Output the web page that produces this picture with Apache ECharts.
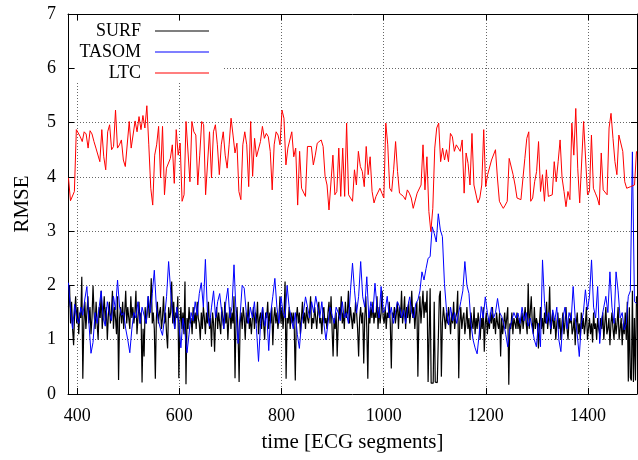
<!DOCTYPE html>
<html>
<head>
<meta charset="utf-8">
<script src="https://cdn.jsdelivr.net/npm/echarts@6/dist/echarts.min.js"></script>
<style>
html,body{margin:0;padding:0;background:#fff}
#chart{width:638px;height:460px}
</style>
</head>
<body>
<div id="chart"></div>
<script>
// tick positions
var xTicks = [400, 600, 800, 1000, 1200, 1400];

// SURF: one value every 2 segments from 383
var surfStart = 383, surfStep = 2;
var surf = [
  1.6, 2.0, 1.3, 1.7, 1.2, 0.9, 1.5, 1.8, 1.3, 1.6, 1.1, 1.5, 1.4, 2.16, 0.28, 1.3, 1.7, 1.2, 1.5, 1.8,
  1.3, 1.6, 1.1, 1.4, 2.0, 1.5, 1.2, 1.7, 1.3, 1.0, 1.6, 1.4, 1.9, 1.2, 1.5, 1.8, 1.3, 1.6, 1.0, 1.45,
  1.7, 1.3, 1.5, 1.9, 1.2, 1.6, 1.4, 1.1, 1.8, 0.26, 1.4, 1.6, 1.3, 1.7, 1.2, 1.5, 1.9, 1.3, 1.6, 1.4,
  1.2, 1.8, 1.4, 1.6, 1.3, 1.5, 1.9, 1.1, 1.4, 1.7, 1.3, 1.5, 0.21, 1.2, 0.69, 1.6, 1.3, 1.5, 1.8, 1.4,
  1.6, 2.13, 1.3, 1.5, 1.2, 0.28, 1.4, 1.7, 1.3, 1.5, 1.6, 1.2, 1.4, 1.8, 1.3, 1.5, 1.1, 0.84, 1.6, 1.4,
  1.5, 2.07, 1.3, 1.7, 1.2, 1.5, 1.4, 1.8, 0.29, 1.3, 1.6, 1.2, 1.5, 1.1, 2.07, 0.18, 1.4, 1.2, 1.6, 1.3,
  1.4, 1.1, 1.6, 1.3, 1.5, 1.2, 1.7, 1.4, 1.3, 1.0, 1.5, 1.2, 1.6, 1.4, 1.1, 1.5, 1.3, 1.7, 1.2, 1.4,
  0.87, 1.5, 1.3, 0.78, 1.4, 1.6, 1.2, 1.5, 1.3, 1.1, 1.6, 1.4, 1.2, 1.7, 1.3, 1.5, 1.0, 1.4, 1.6, 1.2,
  1.5, 1.3, 1.8, 0.29, 1.4, 1.6, 1.1, 0.22, 1.3, 1.5, 1.2, 1.6, 1.4, 1.0, 1.5, 1.3, 1.7, 1.2, 1.4, 1.1,
  1.4, 1.6, 1.2, 1.5, 1.3, 1.7, 1.1, 1.4, 1.5, 1.2, 1.6, 1.3, 1.0, 1.5, 1.4, 1.7, 1.2, 1.5, 1.3, 1.6,
  0.9, 1.4, 1.6, 1.3, 1.5, 1.2, 1.4, 1.8, 1.3, 1.6, 1.2, 1.5, 2.07, 0.28, 1.4, 1.3, 1.6, 1.2, 1.5, 1.3,
  1.5, 1.2, 0.25, 1.4, 1.6, 1.3, 1.5, 1.1, 1.4, 1.7, 1.3, 1.5, 1.2, 1.6, 1.4, 1.3, 1.5, 1.8, 1.2, 1.4,
  1.3, 1.6, 1.4, 1.2, 1.5, 1.7, 1.3, 1.4, 1.1, 1.5, 1.6, 1.3, 1.4, 1.2, 1.5, 1.7, 1.3, 1.8, 1.2, 0.69,
  1.4, 1.2, 1.5, 0.69, 1.3, 1.6, 1.4, 1.8, 1.3, 1.5, 1.2, 1.7, 1.4, 1.5, 1.9, 1.3, 1.6, 1.4, 1.2, 1.5,
  1.3, 1.7, 1.5, 1.2, 0.69, 1.4, 1.6, 1.3, 1.5, 0.56, 1.4, 1.8, 1.2, 0.28, 1.5, 1.3, 1.6, 1.4, 1.7, 1.3,
  1.5, 1.4, 1.8, 1.2, 1.6, 1.3, 1.5, 1.9, 1.4, 1.3, 1.6, 1.2, 1.5, 1.4, 1.7, 1.3, 0.47, 1.5, 1.4, 1.6,
  1.3, 1.5, 1.7, 1.2, 1.6, 1.4, 1.9, 1.3, 1.5, 1.8, 1.2, 1.6, 1.4, 1.7, 1.3, 1.5, 1.9, 1.4, 1.6, 1.2,
  1.5, 1.7, 0.32, 1.4, 1.8, 1.3, 1.6, 1.9, 1.4, 1.7, 1.5, 1.9, 0.22, 0.2, 1.95, 0.2, 0.21, 0.2, 1.7, 0.22,
  0.2, 0.21, 0.2, 1.8, 1.9, 0.32, 1.3, 1.6, 1.4, 1.2, 1.5, 1.3, 1.6, 1.4, 1.1, 1.5, 1.3, 1.7, 1.2, 1.4,
  1.5, 1.9, 0.29, 1.3, 1.6, 1.2, 1.4, 1.5, 1.1, 1.3, 1.6, 1.2, 1.4, 1.0, 1.5, 1.3, 1.2, 1.6, 1.1, 1.4,
  1.2, 1.5, 1.3, 1.0, 1.4, 1.2, 1.6, 0.78, 1.3, 1.5, 1.1, 1.4, 1.2, 1.5, 1.3, 1.6, 1.2, 1.4, 1.1, 1.5,
  1.3, 1.2, 1.5, 0.69, 1.4, 1.1, 1.3, 1.5, 1.2, 1.4, 1.6, 0.17, 1.3, 1.2, 1.5, 1.1, 1.4, 1.3, 1.2, 1.5,
  1.2, 1.4, 1.1, 1.3, 1.5, 1.2, 1.4, 1.6, 1.3, 1.1, 2.04, 1.2, 1.5, 1.8, 1.3, 1.1, 1.6, 1.2, 1.4, 1.3,
  0.84, 1.3, 1.6, 1.2, 1.4, 1.1, 1.5, 1.3, 1.7, 1.2, 1.4, 1.98, 1.1, 1.3, 1.5, 1.2, 1.4, 1.0, 1.3, 1.5,
  1.2, 1.4, 1.0, 1.3, 1.5, 1.1, 1.3, 1.6, 1.2, 1.0, 1.4, 1.3, 1.5, 1.1, 1.2, 1.4, 0.9, 1.3, 1.5, 1.1,
  1.3, 1.0, 1.5, 1.2, 1.4, 1.1, 1.3, 1.6, 1.0, 1.2, 1.4, 1.1, 1.3, 0.95, 1.5, 1.2, 1.3, 1.0, 1.4, 1.2,
  1.1, 1.4, 1.2, 1.5, 1.0, 1.3, 1.6, 1.1, 1.2, 1.4, 0.9, 1.3, 1.5, 1.2, 1.0, 1.4, 1.1, 1.3, 1.6, 1.0,
  1.2, 1.4, 0.9, 1.3, 1.1, 1.5, 1.0, 1.7, 0.23, 1.6, 0.3, 0.25, 1.9, 0.22, 1.4, 0.25, 1.8
];

// TASOM: one value every 4 segments from 383
var tasomStart = 383, tasomStep = 4;
var tasom = [
  2.05, 1.55, 1.2, 1.65, 1.4, 1.3, 1.6, 1.45, 1.75, 1.98,
  1.3, 0.75, 0.95, 1.5, 1.3, 1.6, 1.9, 1.4, 1.25, 1.7,
  1.5, 1.35, 1.8, 1.55, 2.1, 1.6, 1.45, 1.5, 1.2, 1.0,
  0.76, 1.2, 1.5, 1.4, 1.7, 1.3, 1.6, 1.45, 1.3, 1.8,
  1.5, 1.85, 2.28, 1.6, 1.35, 1.2, 1.08, 1.4, 1.8, 2.44,
  1.9, 1.45, 1.2, 1.6, 1.3, 0.85, 1.4, 1.15, 0.76, 1.1,
  1.5, 1.35, 1.7, 1.45, 1.85, 2.05, 1.6, 2.48, 1.5, 1.25,
  1.6, 1.9, 1.4, 1.7, 1.85, 1.5, 1.2, 1.7, 1.95, 1.4,
  1.6, 2.38, 1.5, 0.93, 1.45, 2.0, 1.95, 1.5, 1.3, 1.6,
  1.4, 1.7, 1.2, 0.6, 1.3, 1.6, 1.25, 1.5, 0.8, 1.5,
  1.8, 2.13, 1.6, 1.3, 1.79, 1.5, 1.4, 2.0, 1.6, 1.4,
  1.2, 1.5, 1.1, 0.84, 1.3, 1.5, 1.79, 1.6, 1.4, 1.7,
  1.5, 1.8, 1.6, 1.4, 1.7, 1.3, 1.0, 1.3, 1.6, 1.45,
  1.3, 1.6, 1.5, 1.35, 1.7, 1.4, 1.5, 1.3, 1.9, 2.41,
  1.9, 1.49, 1.8, 2.44, 1.79, 1.6, 2.16, 1.4, 1.7, 1.5,
  2.04, 1.6, 1.4, 1.98, 1.5, 1.55, 1.8, 1.4, 1.6, 1.3,
  1.5, 1.7, 1.61, 1.4, 1.55, 1.3, 1.6, 1.79, 1.5, 1.4,
  1.67, 1.73, 1.9, 2.25, 2.1, 2.31, 2.5, 2.53, 3.08, 2.96,
  2.8, 3.32, 3.02, 2.9, 2.04, 1.55, 1.27, 1.6, 1.35, 1.5,
  1.3, 1.5, 1.7, 1.9, 2.44, 2.0, 1.85, 1.3, 1.0, 0.85,
  0.74, 1.1, 1.61, 1.4, 1.79, 1.5, 1.3, 1.6, 1.4, 1.5,
  1.76, 1.5, 1.43, 1.3, 1.1, 0.87, 1.2, 1.36, 1.5, 1.4,
  1.49, 1.3, 1.6, 1.35, 1.5, 1.25, 1.4, 1.2, 1.0, 0.87,
  1.3, 0.87, 2.47, 1.67, 1.3, 1.5, 1.2, 1.55, 1.35, 1.6,
  1.0, 0.78, 1.4, 1.6, 1.2, 1.5, 1.35, 1.98, 1.4, 1.1,
  0.69, 1.3, 1.5, 1.92, 1.55, 1.8, 2.47, 1.6, 1.4, 1.98,
  0.93, 1.4, 1.6, 1.8, 1.5, 2.25, 1.6, 1.3, 2.25, 1.9,
  1.4, 1.5, 1.18, 1.3, 1.8, 1.9, 4.46, 1.7, 1.67
];

// LTC: evenly spaced from 383 to 1495
var ltcStart = 383, ltcEnd = 1495;
var ltc = [
  3.98, 3.56, 3.58, 3.73, 4.87, 4.85, 4.74, 4.65, 4.83, 4.79,
  4.53, 4.85, 4.79, 4.65, 4.53, 4.53, 4.28, 4.87, 4.37, 4.13,
  4.83, 4.96, 4.50, 4.56, 5.23, 4.53, 4.59, 4.68, 4.31, 4.19,
  4.22, 5.02, 4.53, 4.56, 5.03, 4.83, 5.11, 4.87, 5.13, 4.90,
  5.31, 4.59, 3.79, 3.48, 4.40, 4.59, 4.93, 3.98, 4.93, 3.67,
  4.16, 4.13, 4.34, 4.59, 3.88, 4.87, 4.40, 4.62, 3.55, 3.67,
  5.02, 5.05, 3.91, 5.02, 4.83, 4.77, 3.85, 4.40, 5.02, 4.96,
  3.67, 3.64,
  4.83, 3.98, 4.83, 4.96, 4.59, 4.04, 4.59, 4.83, 4.40, 4.16,
  4.59, 5.08, 4.77, 4.44, 4.62, 3.73, 3.58, 4.59, 4.83, 4.59,
  3.82, 5.02, 4.01, 4.71, 4.37, 4.40, 4.65, 4.93, 4.71, 4.80,
  4.74, 4.47, 3.76, 4.59, 4.83, 4.77, 4.59, 5.23, 5.08, 4.22,
  4.53, 4.56, 4.83, 4.37, 4.53, 3.48, 4.47, 3.79, 3.76, 3.64,
  4.56, 4.59, 4.56, 4.22, 4.40, 4.62, 4.65, 4.68, 4.56, 4.01,
  3.85, 3.39, 3.36, 4.40, 3.67, 3.73, 4.53, 3.64, 4.53, 3.64,
  4.99, 3.67, 3.70,
  3.55, 4.13, 3.85, 4.47, 4.19, 4.10, 3.82, 4.56, 4.04, 4.37,
  3.73, 3.52, 3.64, 3.64, 3.79, 3.70, 3.61, 4.99, 4.59, 3.79,
  3.73, 4.13, 4.65, 4.10, 3.70, 3.67, 3.64, 3.58, 3.76, 3.70,
  3.61, 3.42, 3.42, 3.70, 3.67, 3.85, 4.59, 3.76, 4.37, 3.36,
  2.99, 3.42, 4.53, 4.90, 4.99, 4.28, 4.53, 4.31, 4.50, 4.28,
  4.80, 4.74, 4.47, 4.59, 4.53, 4.47, 4.68, 3.70, 4.44, 4.25,
  3.85, 4.80, 3.85, 3.82, 3.52, 3.61, 3.85, 4.87, 3.82, 4.04,
  4.01, 4.31,
  4.28, 4.50, 3.98, 3.55, 3.48, 3.42, 3.48, 3.55, 4.34, 4.34,
  4.04, 3.85, 3.61, 3.58, 3.58, 3.61, 4.34, 4.71, 4.83, 3.55,
  3.61, 3.91, 4.10, 4.65, 3.73, 4.04, 3.55, 4.13, 3.64, 3.67,
  3.67, 4.28, 3.91, 4.28, 4.68, 3.98, 3.73, 3.45, 3.73, 3.58,
  4.99, 4.40, 5.26, 4.16, 3.52, 3.55, 5.02, 5.02, 3.67, 3.73,
  4.77, 3.79, 3.70, 3.61, 3.48, 4.44, 3.76, 3.79, 3.67, 4.90,
  5.17, 4.71, 4.28, 4.04, 4.77, 4.80, 4.47, 3.91, 3.79, 3.76,
  3.82, 3.82, 3.85, 4.47
];

function pairs(start, step, vals) {
  var out = [];
  for (var i = 0; i < vals.length; i++) out.push([start + i * step, vals[i]]);
  return out;
}

var font = '"Liberation Serif", "DejaVu Serif", serif';
var chart = echarts.init(document.getElementById('chart'));

var gridLine = { show: true, lineStyle: { color: '#666', width: 1, type: [1, 2] } };
var tickStyle = { inside: true, length: 6, lineStyle: { color: '#000', width: 1 } };
var plain = function (v) { return String(v); };

var option = {
  animation: false,
  backgroundColor: '#fff',
  grid: { left: 68, right: 1, top: 14, bottom: 66, outerBoundsMode: 'none', containLabel: false },
  // opaque key box, kept clear of the axis ticks
  legend: {
    orient: 'vertical',
    left: 75, top: 21,
    padding: [0, 13, 0, 0],
    backgroundColor: '#fff',
    itemGap: 1,
    icon: 'rect',
    itemWidth: 54, itemHeight: 1,
    align: 'right',
    textStyle: { fontFamily: font, fontSize: 18, color: '#000', width: 66, align: 'right', lineHeight: 20, padding: [0, 9, 0, 0] },
    data: ['SURF', 'TASOM', 'LTC']
  },
  xAxis: [{
    type: 'value', min: 382, max: 1496, position: 'bottom',
    axisLine: { onZero: false, lineStyle: { color: '#000', width: 1 } },
    axisTick: Object.assign({ customValues: xTicks }, tickStyle),
    axisLabel: { customValues: xTicks, formatter: plain, color: '#000', fontFamily: font, fontSize: 18, margin: 13 },
    splitLine: gridLine,
    name: 'time [ECG segments]', nameLocation: 'middle', nameGap: 38,
    nameTextStyle: { fontFamily: font, fontSize: 21, color: '#000' }
  }, {
    type: 'value', min: 382, max: 1496, position: 'top',
    axisLine: { onZero: false, lineStyle: { color: '#000', width: 1 } },
    axisTick: Object.assign({ customValues: xTicks }, tickStyle),
    axisLabel: { show: false },
    splitLine: { show: false }
  }],
  yAxis: [{
    type: 'value', min: 0, max: 7, interval: 1, position: 'left',
    axisLine: { show: true, onZero: false, lineStyle: { color: '#000', width: 1 } },
    axisTick: Object.assign({ show: true }, tickStyle),
    axisLabel: { formatter: plain, color: '#000', fontFamily: font, fontSize: 18, margin: 12 },
    splitLine: gridLine,
    name: 'RMSE', nameLocation: 'middle', nameGap: 35,
    nameTextStyle: { fontFamily: font, fontSize: 21, color: '#000' }
  }, {
    type: 'value', min: 0, max: 7, interval: 1, position: 'right',
    axisLine: { show: true, onZero: false, lineStyle: { color: '#000', width: 1 } },
    axisTick: Object.assign({ show: true }, tickStyle),
    axisLabel: { show: false },
    splitLine: { show: false }
  }],
  series: [{
    name: 'SURF', type: 'line', xAxisIndex: 0, yAxisIndex: 0,
    data: pairs(surfStart, surfStep, surf),
    symbol: 'none',
    lineStyle: { color: '#000', width: 1.2 }, itemStyle: { color: '#000' }
  }, {
    name: 'TASOM', type: 'line', xAxisIndex: 0, yAxisIndex: 0,
    data: pairs(tasomStart, tasomStep, tasom),
    symbol: 'none',
    lineStyle: { color: '#0000ff', width: 1 }, itemStyle: { color: '#0000ff' }
  }, {
    name: 'LTC', type: 'line', xAxisIndex: 0, yAxisIndex: 0,
    data: pairs(ltcStart, (ltcEnd - ltcStart) / (ltc.length - 1), ltc),
    symbol: 'none',
    lineStyle: { color: '#ff0000', width: 1 }, itemStyle: { color: '#ff0000' }
  }]
};
chart.setOption(option);
</script>
</body>
</html>
